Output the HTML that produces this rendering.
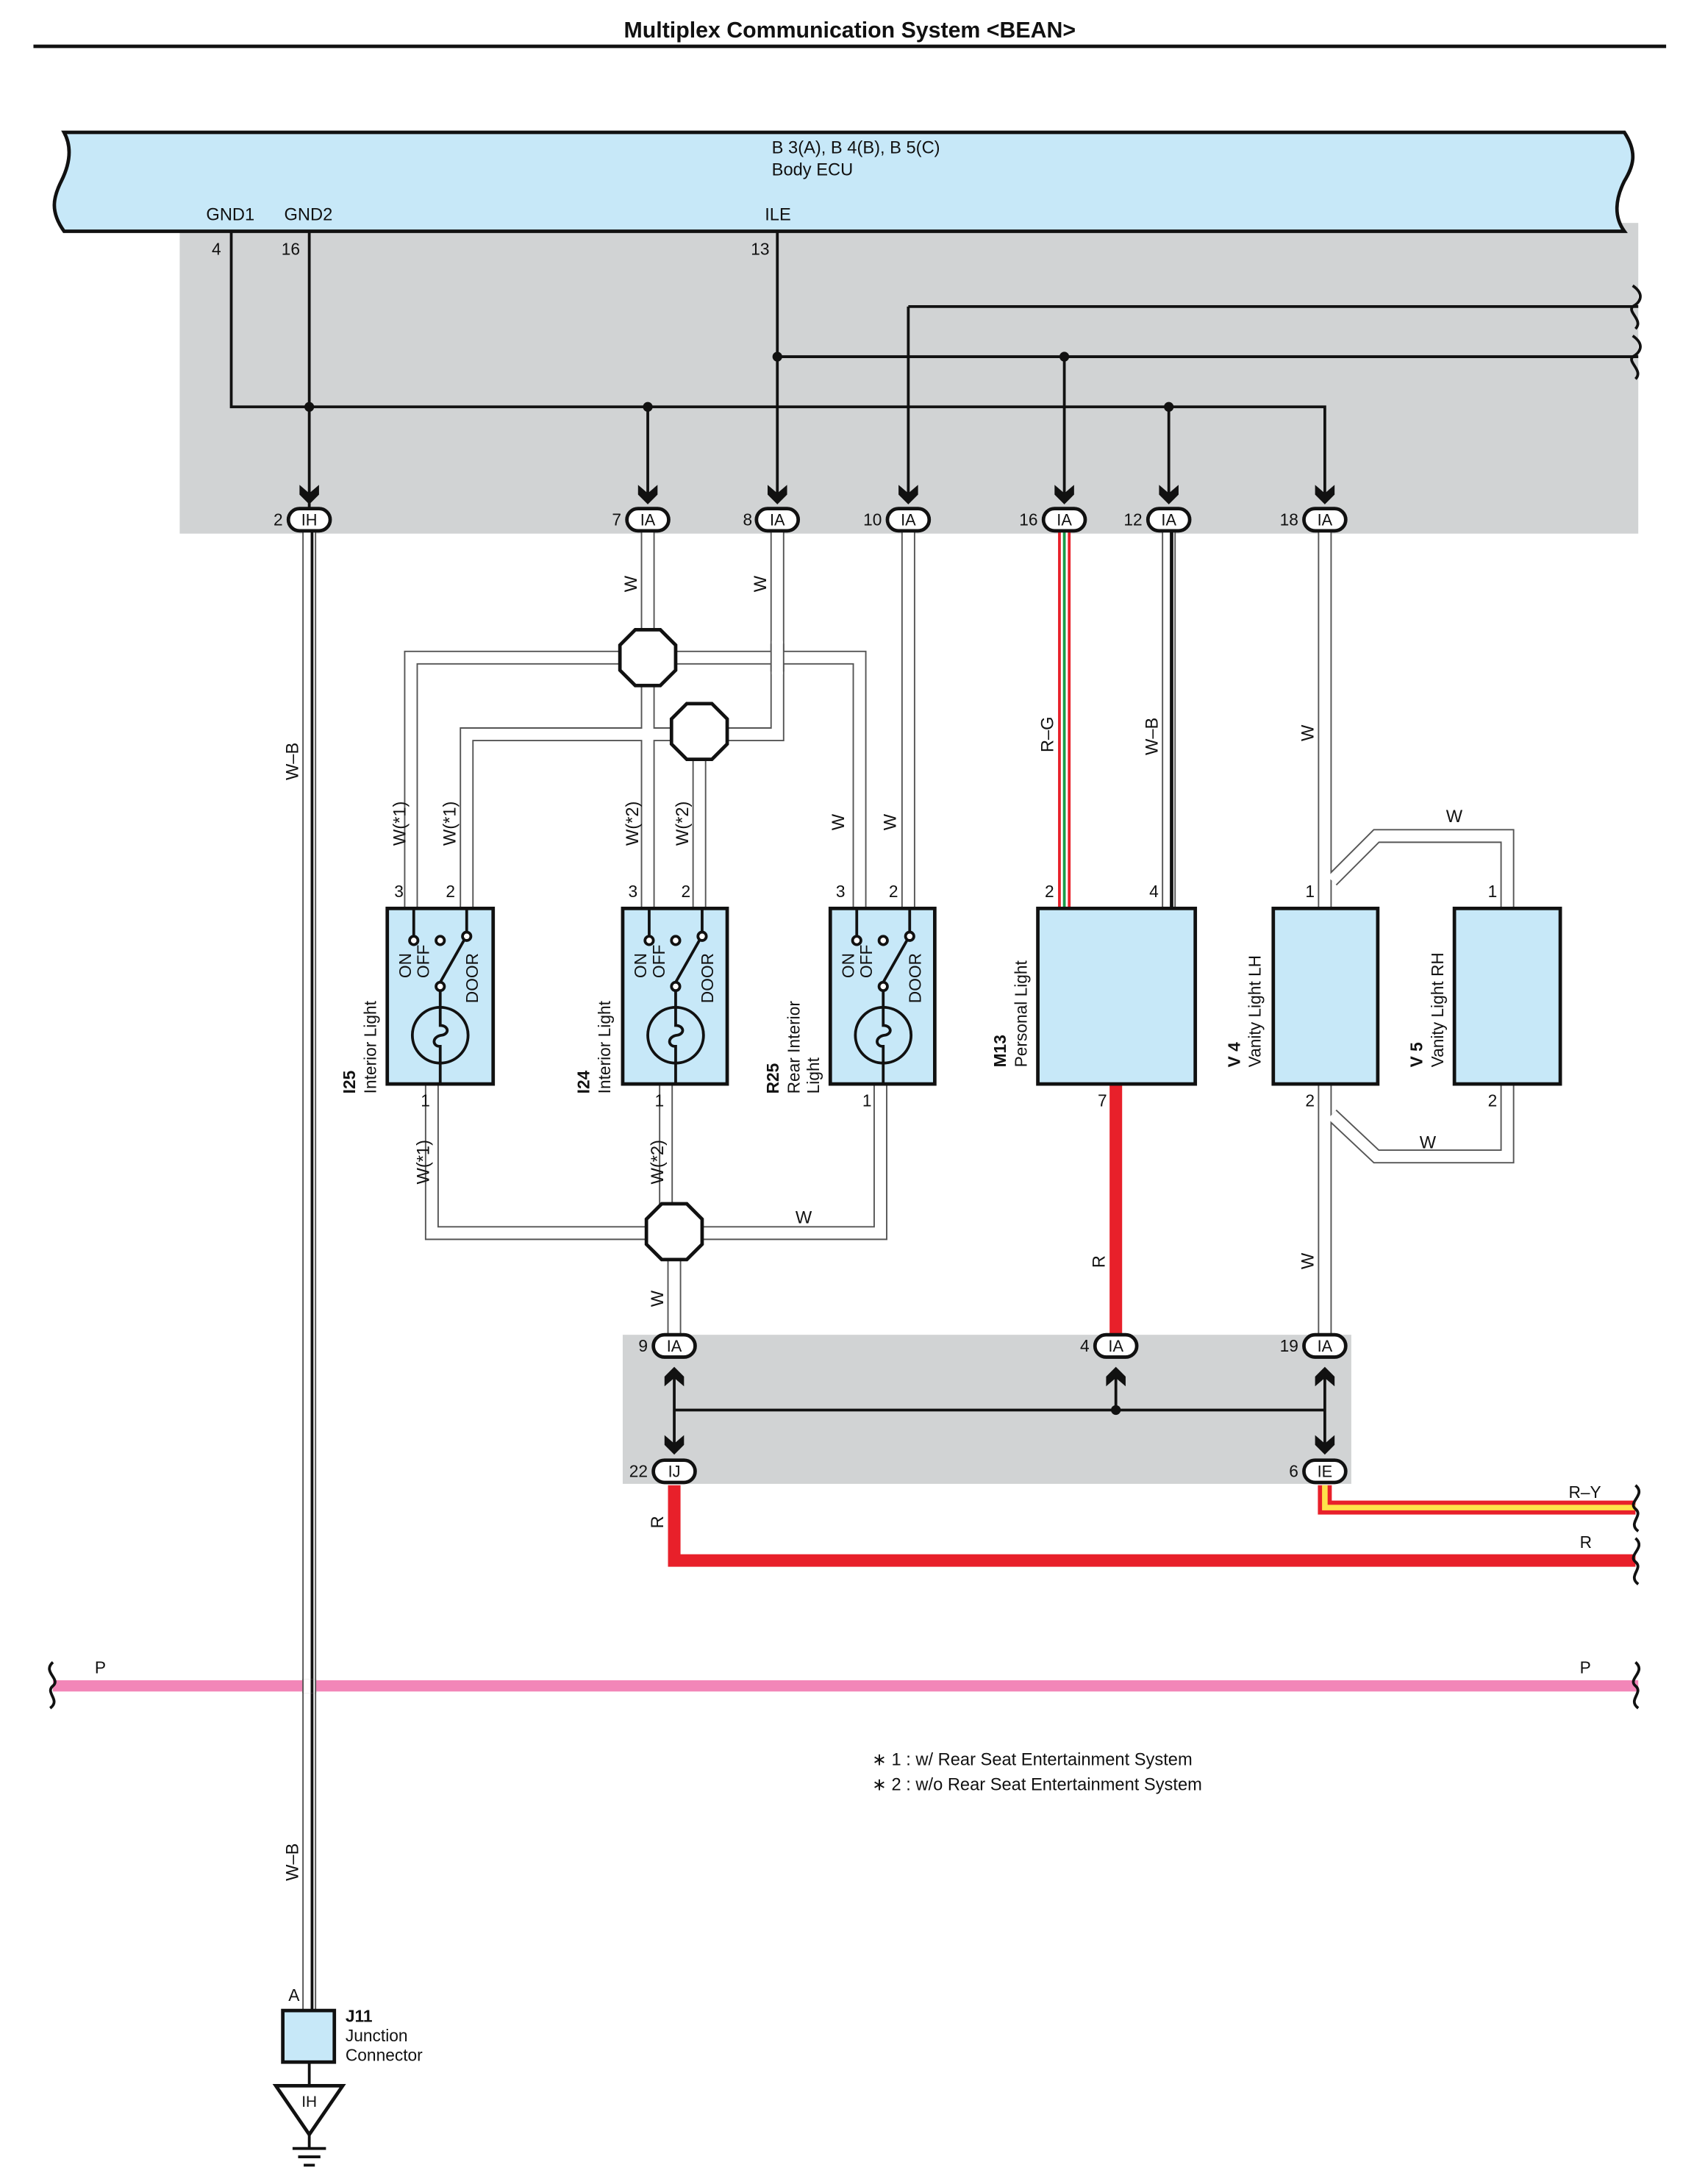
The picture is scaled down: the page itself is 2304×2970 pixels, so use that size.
<!DOCTYPE html>
<html><head><meta charset="utf-8"><style>
html,body{margin:0;padding:0;background:#fff}
svg{display:block}
text{font-family:"Liberation Sans",Arial,sans-serif;fill:#111}
</style></head><body>
<svg width="2304" height="2970" viewBox="0 0 1216 1567.5" xmlns="http://www.w3.org/2000/svg">
<defs>
<g id="W">
<path d="M222,380 V1443"/>
<path d="M465,380 V455"/>
<path d="M558,380 V527 H522"/>
<path d="M652,380 V652"/>
<path d="M839,380 V652"/>
<path d="M951,380 V652"/>
<path d="M445,472 H295 V652"/>
<path d="M485,472 H617 V652"/>
<path d="M465,490 V652"/>
<path d="M484,527 H335 V652"/>
<path d="M502,545 V652"/>
<path d="M310,778 V885 H466"/>
<path d="M478,778 V866"/>
<path d="M502,885 H632 V778"/>
<path d="M484,903 V958"/>
<path d="M951,778 V958"/>
<path d="M956,632 L988,600 H1082 V652"/>
<path d="M956,800 L988,830 H1082 V778"/>
</g>
<g id="oct"><polygon points="-9,-20 9,-20 20,-9 20,9 9,20 -9,20 -20,9 -20,-9" fill="#fff" stroke="#111" stroke-width="2.5"/></g>
<g id="ad"><path d="M-7,-10 L0,-4 L7,-10 L7,-3 L0,4 L-7,-3 Z" fill="#111"/></g>
<g id="au"><path d="M-7,10 L0,4 L7,10 L7,3 L0,-4 L-7,3 Z" fill="#111"/></g>
</defs>

<text x="610" y="27" font-size="16" font-weight="bold" text-anchor="middle">Multiplex Communication System &lt;BEAN&gt;</text>
<rect x="24" y="32" width="1172" height="2.5" fill="#111"/>

<rect x="129" y="160" width="1047" height="223" fill="#d1d3d4"/>
<rect x="447" y="958" width="523" height="107" fill="#d1d3d4"/>

<path d="M46,95 H1166 C1176,110 1172,120 1166,130 C1160,142 1158,155 1166,166 H46 C36,152 38,142 44,130 C50,118 52,106 46,95 Z" fill="#c7e8f8" stroke="#111" stroke-width="2.5"/>
<text x="554" y="110" font-size="12.5">B 3(A), B 4(B), B 5(C)</text>
<text x="554" y="126" font-size="12.5">Body ECU</text>
<text x="148" y="158" font-size="12.5">GND1</text>
<text x="204" y="158" font-size="12.5">GND2</text>
<text x="549" y="158" font-size="12.5">ILE</text>
<text x="152" y="183" font-size="12">4</text>
<text x="202" y="183" font-size="12">16</text>
<text x="539" y="183" font-size="12">13</text>

<g stroke="#111" stroke-width="2" fill="none">
<path d="M166,166 V292 H951 V360"/>
<path d="M222,166 V372"/>
<path d="M465,292 V360"/>
<path d="M839,292 V360"/>
<path d="M558,166 V360"/>
<path d="M558,256 H1176"/>
<path d="M764,256 V360"/>
<path d="M652,220 H1176"/>
<path d="M652,220 V360"/>
<path d="M1172,205 C1182,212 1176,218 1172,220 C1168,224 1180,230 1174,236"/>
<path d="M1172,241 C1182,248 1176,254 1172,256 C1168,260 1180,266 1174,272"/>
<path d="M484,985 V1040"/><path d="M801,985 V1012"/><path d="M951,985 V1040"/>
<path d="M484,1012 H951"/>
</g>
<g fill="#111"><circle cx="222" cy="292" r="3.5"/><circle cx="465" cy="292" r="3.5"/><circle cx="839" cy="292" r="3.5"/><circle cx="558" cy="256" r="3.5"/><circle cx="764" cy="256" r="3.5"/><circle cx="801" cy="1012" r="3.5"/></g>

<use href="#W" stroke="#555" stroke-width="10" fill="none"/>
<use href="#W" stroke="#fff" stroke-width="8" fill="none"/>
<path d="M558,462 V482" stroke="#555" stroke-width="10"/><path d="M558,460 V484" stroke="#fff" stroke-width="8"/>
<path d="M224,380 V1443" stroke="#111" stroke-width="2" fill="none"/>
<path d="M841,380 V652" stroke="#111" stroke-width="2.5" fill="none"/>

<path d="M764,380 V652" stroke="#e8202a" stroke-width="9" fill="none"/>
<path d="M764,380 V652" stroke="#fff" stroke-width="5" fill="none"/>
<path d="M764,380 V652" stroke="#1a9b48" stroke-width="2" fill="none"/>
<path d="M801,778 V958" stroke="#e8202a" stroke-width="9" fill="none"/>
<path d="M484,1066 V1120 H1174" stroke="#e8202a" stroke-width="9" fill="none"/>
<path d="M951,1066 V1082 H1174" stroke="#e8202a" stroke-width="10" fill="none"/>
<path d="M951,1066 V1082 H1174" stroke="#ffe24a" stroke-width="4" fill="none"/>
<path d="M38,1210 H1176" stroke="#f286b8" stroke-width="8" fill="none"/>
<path d="M222,1205 V1215" stroke="#555" stroke-width="10"/><path d="M222,1205 V1215" stroke="#fff" stroke-width="8"/><path d="M224,1205 V1215" stroke="#111" stroke-width="2"/>
<g stroke="#111" stroke-width="2" fill="none">
<path d="M38,1193 C30,1200 44,1205 38,1210 C32,1215 44,1220 36,1226"/>
<path d="M1174,1193 C1182,1200 1168,1205 1174,1210 C1180,1215 1168,1220 1176,1226"/>
<path d="M1174,1066 C1182,1073 1168,1078 1174,1083 C1180,1088 1168,1093 1176,1099"/>
<path d="M1174,1104 C1182,1111 1168,1116 1174,1121 C1180,1126 1168,1131 1176,1137"/>
</g>
<text x="68" y="1201" font-size="12">P</text><text x="1134" y="1201" font-size="12">P</text>
<text x="1126" y="1075" font-size="12">R–Y</text><text x="1134" y="1111" font-size="12">R</text>

<use href="#oct" x="465" y="472"/><use href="#oct" x="502" y="525"/><use href="#oct" x="484" y="884"/>

<g font-size="12">
<use href="#ad" x="222" y="358"/><use href="#ad" x="465" y="358"/><use href="#ad" x="558" y="358"/><use href="#ad" x="652" y="358"/><use href="#ad" x="764" y="358"/><use href="#ad" x="839" y="358"/><use href="#ad" x="951" y="358"/>
<g fill="#fff" stroke="#111" stroke-width="2.5">
<rect x="207" y="365" width="30" height="16" rx="8"/><rect x="450" y="365" width="30" height="16" rx="8"/><rect x="543" y="365" width="30" height="16" rx="8"/><rect x="637" y="365" width="30" height="16" rx="8"/><rect x="749" y="365" width="30" height="16" rx="8"/><rect x="824" y="365" width="30" height="16" rx="8"/><rect x="936" y="365" width="30" height="16" rx="8"/>
<rect x="469" y="958" width="30" height="16" rx="8"/><rect x="786" y="958" width="30" height="16" rx="8"/><rect x="936" y="958" width="30" height="16" rx="8"/>
<rect x="469" y="1048" width="30" height="16" rx="8"/><rect x="936" y="1048" width="30" height="16" rx="8"/>
</g>
<g text-anchor="middle" font-size="11.5">
<text x="222" y="377">IH</text><text x="465" y="377">IA</text><text x="558" y="377">IA</text><text x="652" y="377">IA</text><text x="764" y="377">IA</text><text x="839" y="377">IA</text><text x="951" y="377">IA</text>
<text x="484" y="970">IA</text><text x="801" y="970">IA</text><text x="951" y="970">IA</text><text x="484" y="1060">IJ</text><text x="951" y="1060">IE</text>
</g>
<g text-anchor="end">
<text x="203" y="377">2</text><text x="446" y="377">7</text><text x="540" y="377">8</text><text x="633" y="377">10</text><text x="745" y="377">16</text><text x="820" y="377">12</text><text x="932" y="377">18</text>
<text x="465" y="970">9</text><text x="782" y="970">4</text><text x="932" y="970">19</text><text x="465" y="1060">22</text><text x="932" y="1060">6</text>
</g>
<use href="#au" x="484" y="985"/><use href="#au" x="801" y="985"/><use href="#au" x="951" y="985"/>
<use href="#ad" x="484" y="1040"/><use href="#ad" x="951" y="1040"/>
</g>

<g font-size="12.5">
<text transform="translate(214,560) rotate(-90)">W–B</text>
<text transform="translate(214,1350) rotate(-90)">W–B</text>
<text transform="translate(457,425) rotate(-90)">W</text>
<text transform="translate(550,425) rotate(-90)">W</text>
<text transform="translate(291,607) rotate(-90)">W(*1)</text>
<text transform="translate(327,607) rotate(-90)">W(*1)</text>
<text transform="translate(458,607) rotate(-90)">W(*2)</text>
<text transform="translate(494,607) rotate(-90)">W(*2)</text>
<text transform="translate(606,596) rotate(-90)">W</text>
<text transform="translate(643,596) rotate(-90)">W</text>
<text transform="translate(756,540) rotate(-90)">R–G</text>
<text transform="translate(831,542) rotate(-90)">W–B</text>
<text transform="translate(943,532) rotate(-90)">W</text>
<text transform="translate(943,911) rotate(-90)">W</text>
<text transform="translate(793,910) rotate(-90)">R</text>
<text transform="translate(476,938) rotate(-90)">W</text>
<text transform="translate(476,1097) rotate(-90)">R</text>
<text transform="translate(308,850) rotate(-90)">W(*1)</text>
<text transform="translate(476,850) rotate(-90)">W(*2)</text>
<text x="571" y="878">W</text>
<text x="1038" y="590">W</text>
<text x="1019" y="824">W</text>
</g>

<g>
<rect x="278" y="652" width="76" height="126" fill="#c7e8f8" stroke="#111" stroke-width="2.5"/>
<rect x="447" y="652" width="75" height="126" fill="#c7e8f8" stroke="#111" stroke-width="2.5"/>
<rect x="596" y="652" width="75" height="126" fill="#c7e8f8" stroke="#111" stroke-width="2.5"/>
<rect x="745" y="652" width="113" height="126" fill="#c7e8f8" stroke="#111" stroke-width="2.5"/>
<rect x="914" y="652" width="75" height="126" fill="#c7e8f8" stroke="#111" stroke-width="2.5"/>
<rect x="1044" y="652" width="76" height="126" fill="#c7e8f8" stroke="#111" stroke-width="2.5"/>
</g>
<g id="swi" stroke="#111" stroke-width="2" fill="none">
<path d="M297,652 V672"/><path d="M335,652 V669"/>
<circle cx="297" cy="675" r="3" fill="#fff"/><circle cx="316" cy="675" r="3" fill="#fff"/><circle cx="335" cy="672" r="3" fill="#fff"/>
<path d="M316,705 L333,675"/><circle cx="316" cy="708" r="3" fill="#fff"/>
<path d="M316,711 V736 C322,736 323,742 317,743 C310,744 310,751 316,751 V778"/>
<circle cx="316" cy="743" r="20"/>
</g>
<use href="#swi" x="169"/><use href="#swi" x="318"/>
<g font-size="12">
<text transform="translate(295,702) rotate(-90)">ON</text><text transform="translate(308,702) rotate(-90)">OFF</text><text transform="translate(343,720) rotate(-90)">DOOR</text>
<text transform="translate(464,702) rotate(-90)">ON</text><text transform="translate(477,702) rotate(-90)">OFF</text><text transform="translate(512,720) rotate(-90)">DOOR</text>
<text transform="translate(613,702) rotate(-90)">ON</text><text transform="translate(626,702) rotate(-90)">OFF</text><text transform="translate(661,720) rotate(-90)">DOOR</text>
<text x="283" y="644">3</text><text x="320" y="644">2</text><text x="451" y="644">3</text><text x="489" y="644">2</text><text x="600" y="644">3</text><text x="638" y="644">2</text>
<text x="750" y="644">2</text><text x="825" y="644">4</text><text x="937" y="644">1</text><text x="1068" y="644">1</text>
<text x="302" y="794">1</text><text x="470" y="794">1</text><text x="619" y="794">1</text><text x="788" y="794">7</text><text x="937" y="794">2</text><text x="1068" y="794">2</text>
<text transform="translate(255,785) rotate(-90)" font-weight="bold">I25</text>
<text transform="translate(270,785) rotate(-90)">Interior Light</text>
<text transform="translate(423,785) rotate(-90)" font-weight="bold">I24</text>
<text transform="translate(438,785) rotate(-90)">Interior Light</text>
<text transform="translate(559,785) rotate(-90)" font-weight="bold">R25</text>
<text transform="translate(574,785) rotate(-90)">Rear Interior</text>
<text transform="translate(588,785) rotate(-90)">Light</text>
<text transform="translate(722,766) rotate(-90)" font-weight="bold">M13</text>
<text transform="translate(737,766) rotate(-90)">Personal Light</text>
<text transform="translate(890,766) rotate(-90)" font-weight="bold">V 4</text>
<text transform="translate(905,766) rotate(-90)">Vanity Light LH</text>
<text transform="translate(1021,766) rotate(-90)" font-weight="bold">V 5</text>
<text transform="translate(1036,766) rotate(-90)">Vanity Light RH</text>
<text x="626" y="1267" font-size="12.5">∗ 1 : w/ Rear Seat Entertainment System</text>
<text x="626" y="1285" font-size="12.5">∗ 2 : w/o Rear Seat Entertainment System</text>
</g>

<rect x="203" y="1443" width="37" height="37" fill="#c7e8f8" stroke="#111" stroke-width="2.5"/>
<path d="M222,1480 V1497" stroke="#111" stroke-width="2"/>
<text x="207" y="1436" font-size="12">A</text>
<text x="248" y="1451" font-size="12" font-weight="bold">J11</text>
<text x="248" y="1465" font-size="12">Junction</text>
<text x="248" y="1479" font-size="12">Connector</text>
<polygon points="198,1497 246,1497 222,1532" fill="#fff" stroke="#111" stroke-width="2.5"/>
<text x="222" y="1512" font-size="11" text-anchor="middle">IH</text>
<g stroke="#111" stroke-width="2"><path d="M222,1532 V1542"/><path d="M210,1542 H234"/><path d="M214,1548 H230"/><path d="M218,1554 H226"/></g>
</svg>
</body></html>
